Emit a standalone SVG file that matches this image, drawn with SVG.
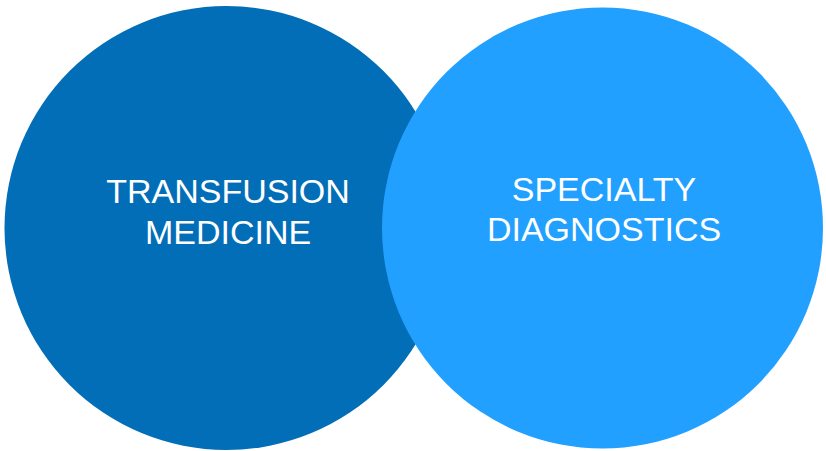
<svg xmlns="http://www.w3.org/2000/svg" width="826" height="451" viewBox="0 0 826 451">
<style>
.lbl{font-family:"Liberation Sans",Arial,sans-serif;font-size:34px;fill:#ffffff;text-anchor:middle}
</style>
<rect width="826" height="451" fill="#ffffff"/>
<g id="transfusion-medicine">
<circle cx="226.5" cy="228" r="222" fill="#026EB7"/>
<text class="lbl" x="228" y="203">TRANSFUSION</text>
<text class="lbl" x="228" y="244">MEDICINE</text>
</g>
<g id="specialty-diagnostics">
<circle cx="602.5" cy="228" r="220.5" fill="#21A0FF"/>
<text class="lbl" x="604" y="201">SPECIALTY</text>
<text class="lbl" x="604" y="241">DIAGNOSTICS</text>
</g>
<g id="connectors"/>
</svg>
